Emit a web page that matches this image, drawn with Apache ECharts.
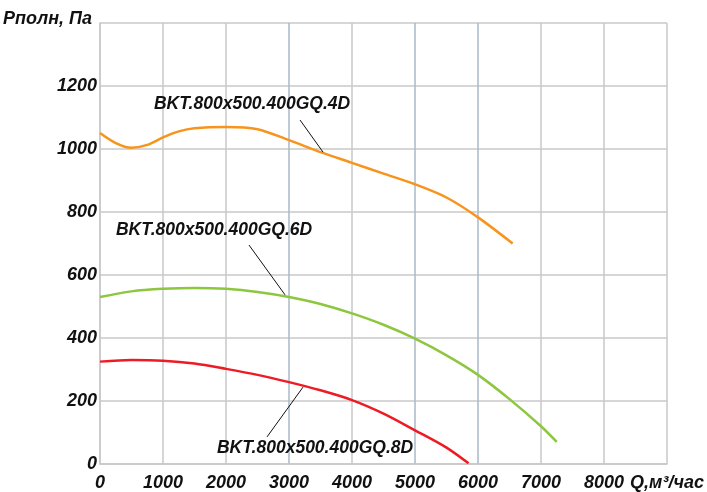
<!DOCTYPE html>
<html><head><meta charset="utf-8">
<script src="https://cdn.jsdelivr.net/npm/echarts@6/dist/echarts.min.js"></script>
<style>html,body{margin:0;padding:0;background:#fff}#c{width:707px;height:492px}</style>
</head><body><div id="c"></div>
<script>
const xTicks = [0,1000,2000,3000,4000,5000,6000,7000,8000,9000];
const yTicks = [0,200,400,600,800,1000,1200,1400];
const xUnitLabel = 'Q,м³/час';
const yUnitLabel = 'Рполн, Па';
const seriesNames = ['BKT.800x500.400GQ.4D','BKT.800x500.400GQ.6D','BKT.800x500.400GQ.8D'];
const q4D = [0,250,500,750,1000,1250,1500,2000,2500,3000,3500,4000,4500,5000,5500,6000,6550];
const p4D = [1051,1019,1004,1013,1037,1056,1066,1070,1063,1028,990,956,922,888,846,783,700];
const q6D = [0,500,1000,1500,2000,2500,3000,3500,4000,4500,5000,5500,6000,6500,7000,7250];
const p6D = [530,548,556,559,556,546,530,508,478,442,398,345,283,206,120,70];
const q8D = [0,500,1000,1500,2000,2500,3000,3500,4000,4500,5000,5500,5850];
const p8D = [325,330,328,319,302,283,260,234,203,160,107,52,2];
// annotation: text anchor [q,p], leader line start/end [q,p]
const labelAt = [[2413,1143],[1810,743],[3413,51]];
const leaderFrom = [[3175,1092],[2365,695],[2651,86]];
const leaderTo = [[3540,990],[2937,537],[3222,244]];
const colors = ['#f7941d','#8dc63f','#ed1c24'];

const zip = (a,b)=>a.map((v,i)=>[v,b[i]]);
const datas = [zip(q4D,p4D), zip(q6D,p6D), zip(q8D,p8D)];
const gridGrey = '#c8c8c8', gridBlue = '#a9b9c9';
const xSplitColors = xTicks.map(v => (v===3000||v===5000||v===6000) ? gridBlue : gridGrey);
const fontFam = '"Liberation Sans", Arial, sans-serif';

const chart = echarts.init(document.getElementById('c'), null, {renderer:'canvas'});
chart.setOption({
  animation:false,
  backgroundColor:'#fff',
  grid:{left:100,right:40,top:23,bottom:28,containLabel:false},
  xAxis:{type:'value',min:0,max:9000,interval:1000,
    axisLine:{show:true,lineStyle:{color:gridGrey,width:1.5}},
    axisTick:{show:false},
    splitLine:{show:true,lineStyle:{color:xSplitColors,width:1.5}},
    axisLabel:{margin:10,color:'#111',fontFamily:fontFam,fontSize:18,fontStyle:'italic',fontWeight:'bold',
      showMaxLabel:true,
      formatter:v=> v===9000 ? xUnitLabel : String(v)}
  },
  yAxis:{type:'value',min:0,max:1400,interval:200,
    axisLine:{show:true,lineStyle:{color:gridGrey,width:1.5}},
    axisTick:{show:false},
    splitLine:{show:true,lineStyle:{color:gridGrey,width:1.5}},
    axisLabel:{margin:3,color:'#111',fontFamily:fontFam,fontSize:18,fontStyle:'italic',fontWeight:'bold',
      showMaxLabel:true,
      formatter:v=> v===1400 ? '{u|'+yUnitLabel+'}' : String(v),
      rich:{u:{fontFamily:fontFam,fontSize:18,fontStyle:'italic',fontWeight:'bold',color:'#111',padding:[0,5,8,0]}}}
  },
  series: datas.map((d,i)=>({
    type:'line', name:seriesNames[i], data:d, smooth:0.3, showSymbol:false, symbol:'none',
    lineStyle:{color:colors[i],width:2.5}, z:3,
    markLine:{silent:true,symbol:['none','none'],label:{show:false},
      lineStyle:{color:'#111',width:1,type:'solid'},
      data:[[{coord:leaderFrom[i]},{coord:leaderTo[i]}]]},
    markPoint:{silent:true,symbol:'rect',symbolSize:1,itemStyle:{color:'rgba(0,0,0,0)'},
      label:{show:true,position:'inside',formatter:seriesNames[i],color:'#111',
        fontFamily:fontFam,fontSize:17.5,fontStyle:'italic',fontWeight:'bold'},
      data:[{coord:labelAt[i]}]}
  }))
});
</script></body></html>
